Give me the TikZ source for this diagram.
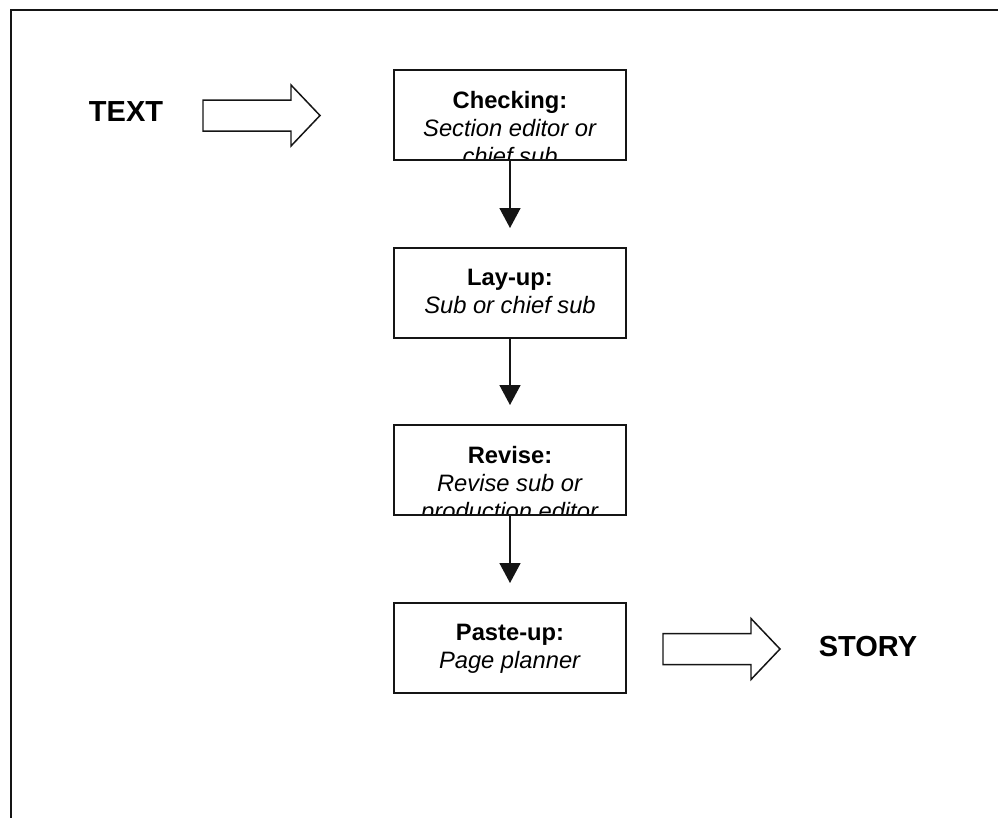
\documentclass[tikz,border=0pt]{standalone}
\usepackage{fontspec}
\setsansfont{Liberation Sans}
\usepackage{xcolor}
\usepackage{tikz}
\usetikzlibrary{positioning,arrows.meta,calc}
\definecolor{Ink}{HTML}{151515}

\begin{document}
\begin{tikzpicture}[
  x=1cm,
  y=1cm,
  every node/.style={
    font=\sffamily,
    align=center
  },
  stage/.style={
    fill=white,
    minimum width=4.64cm,
    minimum height=1.8cm,
    outer sep=0pt
  },
  stagetext/.style={
    font=\sffamily\fontsize{13.5}{16}\selectfont,
    inner sep=0pt,
    anchor=north
  },
  endlabel/.style={
    font=\sffamily\bfseries\fontsize{16.5}{19}\selectfont
  },
  flow/.style={
    -{Triangle[length=4mm,width=4.2mm]},
    Ink,
    line width=.9pt,
    shorten >=4mm
  },
  blockarrow/.pic={
    \draw[Ink, line width=.85pt, fill=white]
      (0,.31) -- (1.76,.31) -- (1.76,.61) -- (2.34,0)
      -- (1.76,-.61) -- (1.76,-.31) -- (0,-.31) -- cycle;
  }
]

\useasboundingbox (0,0) rectangle (19.96,-16.36);

% frame (scan shows only top and left edges)
\draw[
  Ink,
  line width=1.3pt
] (.22,-16.36) -- (.22,-.2) -- (19.96,-.2);

\node[endlabel] (txt) at (2.52,-2.24) {TEXT};
\pic (inarrow) at (4.06,-2.31) {blockarrow};

\node[stage] (chk) at (10.2,-2.30) {};
\node[stage] (lay) at (10.2,-5.86) {};
\node[stage] (rev) at (10.2,-9.40) {};
\node[stage] (pst) at (10.2,-12.96) {};

\begin{scope}
  \clip (chk.south west) rectangle (chk.north east);
  \node[stagetext] (chktxt) at ($(chk.north)+(0,-.41)$)
  {\textbf{Checking:}\\\textit{Section editor or}\\\textit{chief sub}};
\end{scope}

\begin{scope}
  \clip (lay.south west) rectangle (lay.north east);
  \node[stagetext] (laytxt) at ($(lay.north)+(0,-.41)$)
  {\textbf{Lay-up:}\\\textit{Sub or chief sub}};
\end{scope}

\begin{scope}
  \clip (rev.south west) rectangle (rev.north east);
  \node[stagetext] (revtxt) at ($(rev.north)+(0,-.41)$)
  {\textbf{Revise:}\\\textit{Revise sub or}\\\textit{production editor}};
\end{scope}

\begin{scope}
  \clip (pst.south west) rectangle (pst.north east);
  \node[stagetext] (psttxt) at ($(pst.north)+(0,-.41)$)
  {\textbf{Paste-up:}\\\textit{Page planner}};
\end{scope}

% outlines drawn over the clipped text
\foreach \n in {chk,lay,rev,pst}{
  \draw[Ink, line width=.9pt] (\n.south west) rectangle (\n.north east);
}

\foreach \a/\b in {chk/lay,lay/rev,rev/pst}{
  \draw[flow] (\a) -- (\b);
}

\pic (outarrow) at (13.26,-12.98) {blockarrow};
\node[endlabel] (story) at (17.36,-12.94) {STORY};

\end{tikzpicture}
\end{document}
